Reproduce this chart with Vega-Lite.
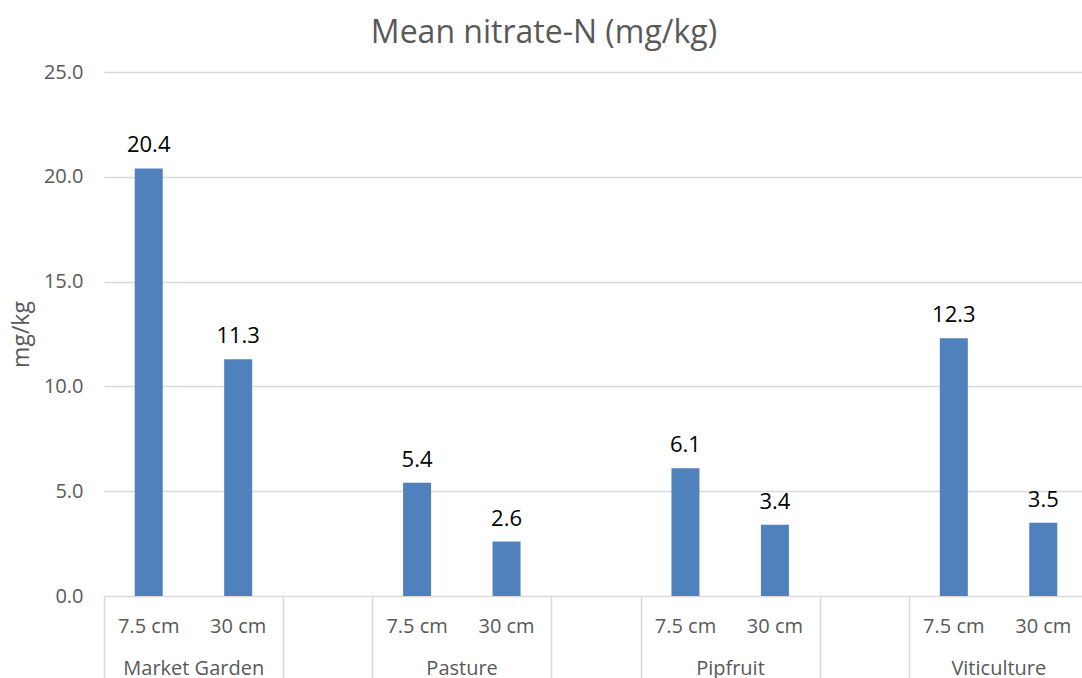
{
  "$schema": "https://vega.github.io/schema/vega-lite/v6.json",
  "width": 978,
  "height": 524,
  "autosize": {"type": "none"},
  "padding": {"left": 104, "top": 72, "right": 0, "bottom": 82},
  "background": "white",
  "config": {"view": {"stroke": null}, "font": "Open Sans"},
  "title": {
    "text": "Mean nitrate-N (mg/kg)",
    "font": "Open Sans",
    "fontSize": 32,
    "fontWeight": "normal",
    "color": "#595959",
    "frame": "group",
    "anchor": "middle",
    "dx": -49,
    "offset": 12
  },
  "data": {
    "values": [
      {"slot": "Market Garden|7.5 cm", "value": 20.4},
      {"slot": "Market Garden|30 cm", "value": 11.3},
      {"slot": "Pasture|7.5 cm", "value": 5.4},
      {"slot": "Pasture|30 cm", "value": 2.6},
      {"slot": "Pipfruit|7.5 cm", "value": 6.1},
      {"slot": "Pipfruit|30 cm", "value": 3.4},
      {"slot": "Viticulture|7.5 cm", "value": 12.3},
      {"slot": "Viticulture|30 cm", "value": 3.5}
    ]
  },
  "encoding": {
    "y": {
      "field": "value",
      "type": "quantitative",
      "scale": {"domain": [0, 25], "nice": false},
      "axis": {
        "title": "mg/kg",
        "titleFont": "Open Sans",
        "titleFontSize": 23,
        "titleFontWeight": "normal",
        "titleColor": "#595959",
        "titlePadding": 10,
        "values": [0, 5, 10, 15, 20, 25],
        "format": ".1f",
        "labelFont": "Open Sans",
        "labelFontSize": 20,
        "labelColor": "#595959",
        "labelPadding": 21,
        "ticks": false,
        "domain": false,
        "grid": true,
        "gridColor": "#d9d9d9",
        "gridWidth": 1.5
      }
    }
  },
  "layer": [
    {
      "mark": {"type": "bar", "color": "#4f81bd"},
      "encoding": {
        "x": {
          "field": "slot",
          "type": "nominal",
          "sort": null,
          "scale": {
            "domain": ["Market Garden|7.5 cm", "Market Garden|30 cm", "gap1", "Pasture|7.5 cm", "Pasture|30 cm", "gap2", "Pipfruit|7.5 cm", "Pipfruit|30 cm", "gap3", "Viticulture|7.5 cm", "Viticulture|30 cm"],
            "range": [0, 984],
            "paddingInner": 0.687,
            "paddingOuter": 0.3435
          },
          "axis": {
            "title": null,
            "orient": "bottom",
            "labelExpr": "indexof(datum.value, '|') > 0 ? split(datum.value, '|')[1] : ''",
            "labelAngle": 0,
            "labelFont": "Open Sans",
            "labelFontSize": 20,
            "labelColor": "#595959",
            "labelPadding": 20,
            "labelOverlap": false,
            "labelBound": false,
            "ticks": false,
            "domain": false
          }
        }
      }
    },
    {
      "mark": {"type": "text", "baseline": "alphabetic", "dy": -16, "font": "Open Sans", "fontSize": 22, "color": "#000000"},
      "encoding": {
        "x": {
          "field": "slot",
          "type": "nominal",
          "sort": null,
          "axis": null
        },
        "text": {"field": "value", "type": "quantitative", "format": ".1f"}
      }
    },
    {
      "mark": {"type": "bar", "opacity": 0},
      "encoding": {
        "x": {
          "field": "slot",
          "type": "nominal",
          "sort": null,
          "axis": {
            "title": null,
            "orient": "bottom",
            "bandPosition": 0,
            "tickOffset": -30.7,
            "values": ["Market Garden|7.5 cm", "gap1", "Pasture|7.5 cm", "gap2", "Pipfruit|7.5 cm", "gap3", "Viticulture|7.5 cm"],
            "labelExpr": "indexof(datum.value, '|') > 0 ? split(datum.value, '|')[0] : ''",
            "labelAngle": 0,
            "labelOffset": 75.2,
            "labelFont": "Open Sans",
            "labelFontSize": 20,
            "labelColor": "#595959",
            "labelPadding": -38,
            "labelOverlap": false,
            "labelBound": false,
            "labelFlush": false,
            "ticks": true,
            "tickSize": 100,
            "tickColor": "#d9d9d9",
            "tickWidth": 1.5,
            "domain": false
          }
        }
      }
    }
  ],
  "resolve": {"axis": {"x": "independent"}}
}
